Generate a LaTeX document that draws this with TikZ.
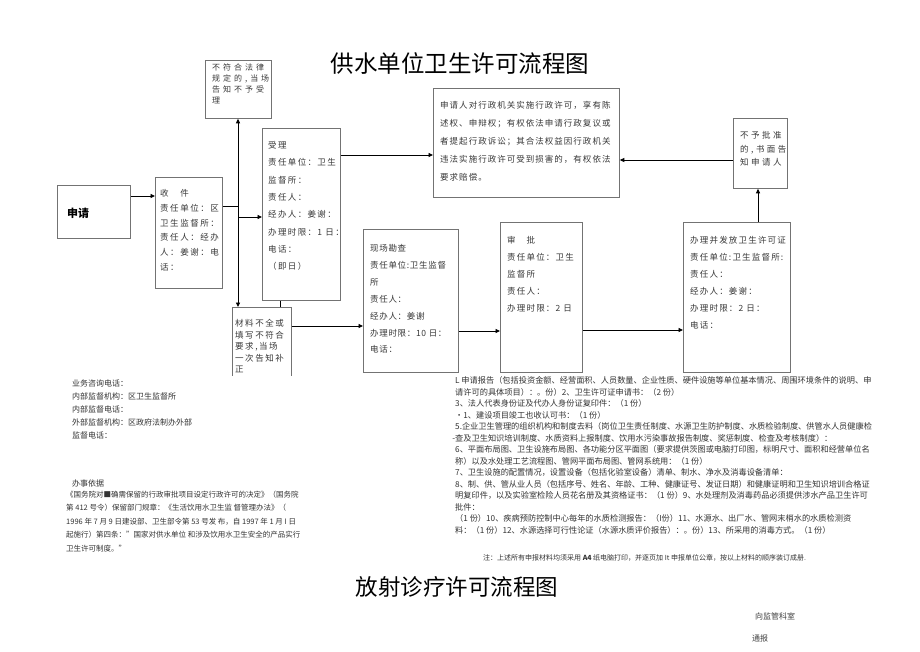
\documentclass[tikz,border=0pt]{standalone}
\usepackage{fontspec}
\setmainfont{Noto Sans CJK SC}
\usetikzlibrary{arrows.meta}
\newcommand\bxf[3]{\addfontfeatures{LetterSpace=#3}\fontsize{#1}{#2}\selectfont}
\tikzset{
  box/.style={draw=black!55, line width=0.8pt, inner sep=0pt, anchor=north west},
  btext/.style={anchor=north west, inner sep=0pt, align=left, text=black!78},
  arr/.style={line width=0.9pt, -{Triangle[length=4.5pt,width=4pt]}},
  conn/.style={line width=0.9pt},
  para/.style={anchor=north west, inner sep=0pt, align=left, text=black!80}
}
\begin{document}
\begin{tikzpicture}[x=1pt,y=-1pt]
\useasboundingbox (0,0) rectangle (920,651);
\fill[white] (0,0) rectangle (920,651);

% titles
\node[inner sep=0pt, font={\fontsize{23.5}{26}\selectfont}] (title1) at (460,63) {供水单位卫生许可流程图};
\node[inner sep=0pt, font={\fontsize{22.5}{25}\selectfont}] (title2) at (457,587) {放射诊疗许可流程图};

\begin{scope}
\clip (0,0) rectangle (920,375.5);
% boxes
\node[box, minimum width=73pt, minimum height=53pt] (shenqing) at (57,185) {};
\node[box, minimum width=67pt, minimum height=111pt] (shoujian) at (155,177) {};
\node[box, minimum width=66pt, minimum height=58pt] (bufuhe) at (205,60) {};
\node[box, minimum width=78pt, minimum height=172pt] (shouli) at (262,128) {};
\node[box, minimum width=59pt, minimum height=83pt] (cailiao) at (232,307) {};
\node[box, minimum width=186pt, minimum height=109pt] (bigbox) at (433,88) {};
\node[box, minimum width=54pt, minimum height=70pt] (buyu) at (733,118) {};
\node[box, minimum width=95pt, minimum height=143pt] (xianchang) at (363,229) {};
\node[box, minimum width=82pt, minimum height=150pt] (shenpi) at (500,222) {};
\node[box, minimum width=107pt, minimum height=150pt] (banli) at (683,222) {};

% box texts
\node[anchor=west, inner sep=0pt, font={\fontsize{11}{13}\selectfont\bfseries}] (shenqingt) at (67,213) {申请};
\node[btext, font={\bxf{8}{11}{37}}] (bufuhet) at (212,63.4) {不符合法律\\规定的,当场\\告知不予受\\理};
\node[btext, font={\bxf{8.5}{14.8}{18}}] (shoujiant) at (160,189.2) {收　件\\责任单位：区\\卫生监督所：\\责任人：经办\\人：姜谢：电\\话：};
\node[btext, font={\bxf{8.5}{17.3}{16}}] (shoulit) at (268,141.2) {受理\\责任单位：卫生\\监督所：\\责任人：\\经办人：姜谢：\\办理时限：1 日：\\电话：\\（即日）};
\node[btext, font={\bxf{8.5}{18}{12}}] (bigboxt) at (440,101.2) {申请人对行政机关实施行政许可，享有陈\\述权、申辩权；有权依法申请行政复议或\\者提起行政诉讼；其合法权益因行政机关\\违法实施行政许可受到损害的，有权依法\\要求赔偿。};
\node[btext, font={\bxf{8.5}{13.5}{29}}] (buyut) at (740,131.2) {不予批准\\的,书面告\\知申请人};
\node[btext, font={\bxf{8.5}{16.9}{8}}] (xianchangt) at (370,244.2) {现场勘查\\责任单位:卫生监督\\所\\责任人：\\经办人：姜谢\\办理时限：10 日：\\电话：};
\node[btext, font={\bxf{8.5}{17}{14}}] (shenpit) at (507,236.2) {审　批\\责任单位：卫生\\监督所\\责任人：\\办理时限：2 日};
\node[btext, font={\bxf{8.5}{17}{14}}] (banlit) at (690,236.2) {办理并发放卫生许可证\\责任单位:卫生监督所:\\责任人：\\经办人：姜谢：\\办理时限：2 日：\\电话：};
\node[btext, font={\bxf{8.5}{11.5}{18}}] (cailiaot) at (235,319.2) {材料不全或\\填写不符合\\要求,当场\\一次告知补\\正};

% connectors
\draw[arr] ([yshift=-11pt]shenqing.north east) -- ([yshift=-19pt]shoujian.north west);
\coordinate (j1) at (238,206);
\coordinate (j2) at (238,217);
\draw[conn] ([yshift=-29pt]shoujian.north east) -- (j1);
\draw[arr] (j1) -- (j1 |- bufuhe.south);
\draw[arr] (j1) -- (j1 |- cailiao.north);
\draw[arr] (j2) -- (j2 -| shouli.west);
\draw[arr] ([yshift=-27pt]shouli.north east) coordinate (s1) -- (s1 -| bigbox.west);
\draw[arr] ([yshift=-42pt]buyu.north west) coordinate (b1) -- (b1 -| bigbox.east);
\coordinate (b2) at (758,222);
\draw[arr] (b2 |- banli.north) -- (b2 |- buyu.south);
\coordinate (c1) at (280,300);
\draw[conn] (c1 |- shouli.south) -- (c1 |- cailiao.north);
\draw[arr] ([yshift=-19pt]cailiao.north east) coordinate (c2) -- (c2 -| xianchang.west);
\draw[arr] ([yshift=-102pt]xianchang.north east) coordinate (x1) -- (x1 -| shenpi.west);
\draw[arr] ([yshift=-108pt]shenpi.north east) coordinate (p1) -- (p1 -| banli.west);
\end{scope}

% bottom left text
\node[para, font={\fontsize{8}{13}\selectfont}] (contact) at (72,379.4) {业务咨询电话：\\内部监督机构：区卫生监督所\\内部监督电话：\\外部监督机构：区政府法制办外部\\监督电话：};
\node[para, font={\fontsize{8}{13}\selectfont}] (yiju) at (72,479.4) {办事依据};
\node[para, font={\fontsize{7.5}{13.5}\selectfont}] (cite) at (66,490.6) {《国务院对■确需保留的行政审批项目设定行政许可的决定》（国务院\\第 412 号令）保留部门规章：《生活饮用水卫生监 督管理办法》（\\1996 年 7 月 9 日建设部、卫生部令第 53 号发 布，自 1997 年 1 月 I 日\\起施行）第四条：”国家对供水单位 和涉及饮用水卫生安全的产品实行\\卫生许可制度。”};

% bottom right text
\node[para, font={\fontsize{8.2}{11.5}\selectfont}] (materials) at (455,376.3) {L 申请报告（包括投资金额、经营面积、人员数量、企业性质、硬件设施等单位基本情况、周围环境条件的说明、申\\请许可的具体项目）：。份）2、卫生许可证申请书：（2 份）\\3、法人代表身份证及代办人身份证复印件：（1 份）\\•1、建设项目竣工也收认可书：（1 份）\\5.企业卫生管理的组织机构和制度去料（岗位卫生责任制度、水源卫生防护制度、水质检验制度、供管水人员健康检\\\llap{-}查及卫生知识培训制度、水质资料上报制度、饮用水污染事故报告制度、奖惩制度、检查及考核制度）：\\6、平面布局图、卫生设施布局图、各功能分区平面图（要求提供茨图或电脑打印图，标明尺寸、面积和经营单位名\\称）以及水处理工艺流程图、管网平面布局图、管网系统用：（1 份）\\7、卫生设施的配置情况，设置设备（包括化验室设备）清单、制水、净水及消毒设备清单：\\8、制、供、管从业人员（包括序号、姓名、年龄、工种、健康证号、发证日期）和健康证明和卫生知识培训合格证\\明复印件，以及实验室检险人员花名册及其资格证书：（1 份）9、水处理剂及消毒药品必须提供涉水产品卫生许可\\批件：\\（1 份）10、疾病预防控制中心每年的水质检测报告：（I份）11、水源水、出厂水、管网末梢水的水质检测资\\料：（1 份）12、水源选择可行性论证（水源水质评价报告）：。份）13、所采用的消毒方式。（1 份）};

\node[anchor=west, inner sep=0pt, text=black!80, font={\fontsize{7}{9}\selectfont}] (note) at (483,558) {注：上述所有申报材料均须采用 \textbf{A4} 纸电脑打印，并逐页加 It 申报单位公章，按以上材料的顺序装订成册.};

\node[anchor=west, inner sep=0pt, text=black!75, font={\fontsize{8}{10}\selectfont}] (xiang) at (755,616) {向监管科室};
\node[anchor=west, inner sep=0pt, text=black!75, font={\fontsize{8}{10}\selectfont}] (tongbao) at (752,638) {通报};
\end{tikzpicture}
\end{document}
